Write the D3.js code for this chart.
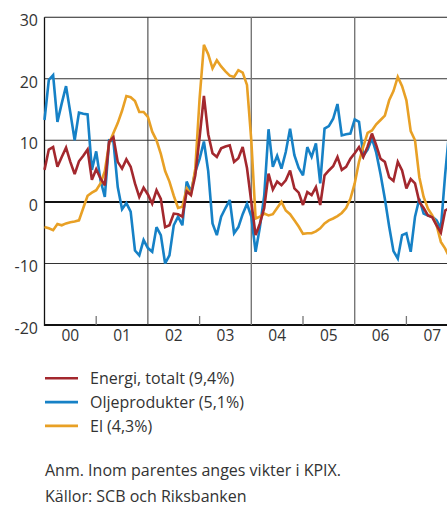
<!DOCTYPE html>
<html><head><meta charset="utf-8">
<script src="https://cdn.jsdelivr.net/npm/d3@7"></script>
<style>
html,body{margin:0;padding:0;background:#fff;}
svg{display:block;font-family:"Open Sans",sans-serif;}
</style></head>
<body>
<svg id="c" width="447" height="506"></svg>
<script>
// Monthly values, Jan 2000 onwards (annual % change)
const startYear = 2000;
const energi = [5.2,8.5,8.9,5.7,7.3,8.8,6.5,4.5,6.6,7.5,8.5,3.6,5.3,3.8,2.7,9.8,10.5,6.5,5.4,6.9,5.7,3.0,0.8,2.3,1.2,-0.3,1.9,0.5,-4.1,-3.8,-1.9,-2.0,-2.4,1.7,1.1,4.3,10.5,17.2,11.0,7.9,7.3,8.7,9.0,9.2,6.5,7.1,8.9,5.5,0.0,-5.4,-3.5,-1.0,4.6,2.0,3.3,2.7,3.5,5.1,2.2,1.5,-0.5,1.6,1.1,2.4,-0.5,4.3,5.1,5.8,7.3,5.2,5.7,7.0,7.9,8.9,7.3,9.0,11.1,9.2,7.0,6.5,4.0,3.4,6.5,5.1,2.2,3.7,3.0,0.0,-1.0,-2.2,-2.5,-3.8,-5.0,-1.4,-1.0];
const olje = [13.3,19.8,20.6,13.0,16.0,18.8,14.5,10.0,14.5,14.3,14.2,5.2,8.2,3.5,0.8,10.0,9.8,2.4,-1.2,-0.2,-1.6,-7.9,-8.7,-6.2,-7.5,-8.1,-4.1,-5.4,-10.0,-8.7,-3.8,-2.4,-3.8,3.3,1.6,4.9,7.0,9.8,5.0,-3.5,-5.4,-2.4,-1.0,0.3,-5.1,-4.1,-2.0,-0.3,-2.4,-8.1,-4.1,1.0,11.8,5.7,7.5,5.4,8.1,11.9,7.6,5.5,4.3,8.9,7.3,9.5,3.0,11.9,12.3,13.5,15.9,10.8,11.0,11.1,13.4,13.0,7.5,8.5,10.3,8.0,4.5,0.5,-4.0,-8.0,-9.2,-5.4,-5.1,-8.1,-2.4,0.5,-1.9,-2.2,-2.4,-3.0,-4.3,4.5,12.0];
const el = [-4.1,-4.3,-4.6,-3.6,-3.8,-3.5,-3.3,-3.2,-3.0,-1.0,1.0,1.5,1.9,3.0,5.0,9.5,11.2,12.8,14.8,17.2,17.0,16.4,14.6,14.6,13.8,11.4,10.0,7.8,5.0,3.3,1.0,-1.0,-0.8,2.2,1.2,5.4,16.8,25.5,24.0,21.7,23.0,22.0,21.2,20.5,20.3,21.4,21.0,19.0,10.0,-2.7,-2.4,-1.9,-2.2,-2.0,-1.0,0.0,-1.4,-2.0,-3.0,-4.0,-5.2,-5.1,-5.1,-4.8,-4.3,-3.5,-3.0,-2.7,-2.3,-1.8,-1.0,0.5,3.0,6.5,9.0,11.2,11.6,12.6,13.3,14.0,16.5,18.0,20.3,18.8,16.5,11.5,10.0,4.0,0.8,-1.1,-2.2,-3.8,-6.5,-7.6,-9.0];
const yearLabels = ["00","01","02","03","04","05","06","07"];
const yTicks = [30,20,10,0,-10,-20];
const seriesNames = ["Energi, totalt (9,4%)","Oljeprodukter (5,1%)","El (4,3%)"];
const seriesColors = ["#a3282e","#1681c6","#e8a025"];
const note = "Anm. Inom parentes anges vikter i KPIX.";
const source = "Källor: SCB och Riksbanken";

const svg = d3.select("#c");
const W = 447;
const x = d3.scaleLinear().domain([0, 96]).range([44.5, 458.1]);
const y = d3.scaleLinear().domain([-20, 30]).range([325, 17.2]);
const left = x(0), right = W;

// horizontal grid lines
svg.append("g").selectAll("line").data(yTicks).join("line")
  .attr("x1", left).attr("x2", right)
  .attr("y1", d => y(d)).attr("y2", d => y(d))
  .attr("stroke", d => (d===0||d===-20) ? "#111" : (d===30 ? "#222" : "#333"))
  .attr("stroke-width", d => d===0 ? 2 : (d===-20 ? 2.2 : 1.1));

// vertical separators at 2002, 2004, 2006
const sepYears = [2, 4, 6];
svg.append("g").selectAll("line").data(sepYears).join("line")
  .attr("x1", d => x(d*12)).attr("x2", d => x(d*12))
  .attr("y1", y(30)).attr("y2", y(-20))
  .attr("stroke", (d,i) => i===0 ? "#333" : "#777")
  .attr("stroke-width", (d,i) => i===0 ? 1 : 1.4);

// small ticks at odd years
const tickYears = [1, 3, 5, 7];
svg.append("g").selectAll("line").data(tickYears).join("line")
  .attr("x1", d => x(d*12)).attr("x2", d => x(d*12))
  .attr("y1", y(-20)).attr("y2", y(-20) - 9)
  .attr("stroke", "#777").attr("stroke-width", 1.3);

// left axis line
svg.append("line").attr("x1", left).attr("x2", left)
  .attr("y1", y(30)).attr("y2", y(-20)+1).attr("stroke", "#111").attr("stroke-width", 1.3);

// y labels
svg.append("g").selectAll("text").data(yTicks).join("text")
  .attr("x", 38).attr("y", d => y(d) + 9)
  .attr("text-anchor", "end").attr("font-size", 16).attr("fill", "#333")
  .text(d => d);

// x labels
svg.append("g").selectAll("text").data(yearLabels).join("text")
  .attr("x", (d,i) => x(i*12 + 6)).attr("y", 341)
  .attr("text-anchor", "middle").attr("font-size", 15.5).attr("fill", "#333")
  .text(d => d);

// lines
const line = d3.line().x((d,i) => x(i)).y(d => y(d));
const allSeries = [olje, el, energi];
const allColors = [seriesColors[1], seriesColors[2], seriesColors[0]];
svg.append("g").selectAll("path").data(allSeries).join("path")
  .attr("d", line).attr("fill", "none")
  .attr("stroke", (d,i) => allColors[i])
  .attr("stroke-width", 2.6).attr("stroke-linejoin", "miter").attr("stroke-miterlimit", 3);

// legend
const lg = svg.append("g").selectAll("g").data(seriesNames).join("g")
  .attr("transform", (d,i) => `translate(0,${378.3 + i*23.8})`);
lg.append("line").attr("x1", 45).attr("x2", 78).attr("y1", 0).attr("y2", 0)
  .attr("stroke", (d,i) => seriesColors[i]).attr("stroke-width", 2.6);
lg.append("text").attr("x", 90).attr("y", 6).attr("font-size", 16).attr("fill", "#333")
  .text(d => d);

svg.append("text").attr("x", 45).attr("y", 476).attr("font-size", 16).attr("fill", "#333").text(note);
svg.append("text").attr("x", 45).attr("y", 502).attr("font-size", 16).attr("fill", "#333").text(source);
</script>
</body></html>
